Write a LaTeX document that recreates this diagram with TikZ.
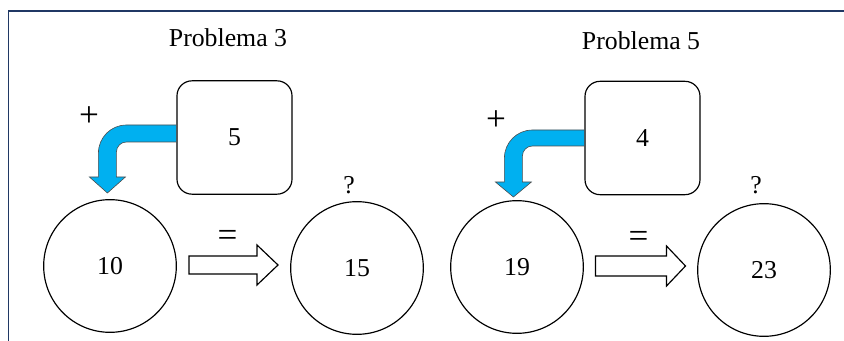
\documentclass[tikz,border=0pt]{standalone}
\usepackage{fontspec}
\setmainfont{Liberation Serif}
\usetikzlibrary{calc}
\definecolor{framenavy}{RGB}{32,56,100}
\definecolor{arrowblue}{RGB}{0,176,240}
\tikzset{
  numbox/.style={draw, rounded corners=0.45cm, minimum width=3.45cm, minimum height=3.4cm, line width=1pt},
  numcirc/.style={draw, circle, minimum size=3.98cm, inner sep=0pt, line width=1pt},
  bendarrow/.style={fill=arrowblue, draw=black!70, line width=0.5pt},
  eqarrow/.style={draw, line width=1pt, line join=miter},
  signtext/.style={font=\fontsize{30}{34}\selectfont},
}

\begin{document}
\begin{tikzpicture}[x=0.03cm, y=0.03cm, font=\fontsize{22}{26}\selectfont]
\useasboundingbox (0,0) rectangle (844,341);
% frame
\draw[framenavy, line width=1.7pt] (8.5,0) -- (8.5,330) -- (844,330);

% problema 3
\node (title3) at (228,303) {Problema 3};
\node[numbox] (box5) at (234.5,203.5) {5};
\node[numcirc] (c10) at (110,75) {10};
\node[numcirc] (c15) at (357,73) {15};
\node[signtext] (plus3) at (89,224) {+};
\node (ask3) at (349,156) {?};
\draw[bendarrow] ($(box5.west)+(0,12.5)$) -- ++(-50,0)
  arc[start angle=90, end angle=180, radius=0.84cm] -- ++(0,-24)
  -- ++(-9,0) -- ++(18,-16) -- ++(18,16) -- ++(-9,0) -- ++(0,25)
  arc[start angle=180, end angle=90, radius=0.3cm] -- ++(50,0) -- cycle;
\coordinate (m3) at ($($(c10.east)!0.5!(c15.west)$)+(0,2)$);
\draw[eqarrow] ($(m3)+(-44.5,-9)$) -- ++(68,0) -- ++(0,-11) -- ++(21,20)
  -- ++(-21,20) -- ++(0,-11) -- ++(-68,0) -- cycle;
\node[signtext] (eq3) at ($(m3)+(-6,27)$) {=};

% problema 5
\node (title5) at (641,300) {Problema 5};
\node[numbox] (box4) at (642.5,203) {4};
\node[numcirc] (c19) at (517,74) {19};
\node[numcirc] (c23) at (764,71) {23};
\node[signtext] (plus5) at (496,220) {+};
\node (ask5) at (756,156) {?};
\draw[bendarrow] ($(box4.west)+(0,8)$) -- ++(-52,0)
  arc[start angle=90, end angle=180, radius=0.84cm] -- ++(0,-24)
  -- ++(-9,0) -- ++(18,-15) -- ++(18,15) -- ++(-9,0) -- ++(0,26)
  arc[start angle=180, end angle=90, radius=0.3cm] -- ++(52,0) -- cycle;
\coordinate (m5) at ($($(c19.east)!0.5!(c23.west)$)+(0,2.5)$);
\draw[eqarrow] ($(m5)+(-45,-10)$) -- ++(71,0) -- ++(0,-10) -- ++(19,20)
  -- ++(-19,20) -- ++(0,-10) -- ++(-71,0) -- cycle;
\node[signtext] (eq5) at ($(m5)+(-2,27)$) {=};
\end{tikzpicture}
\end{document}
